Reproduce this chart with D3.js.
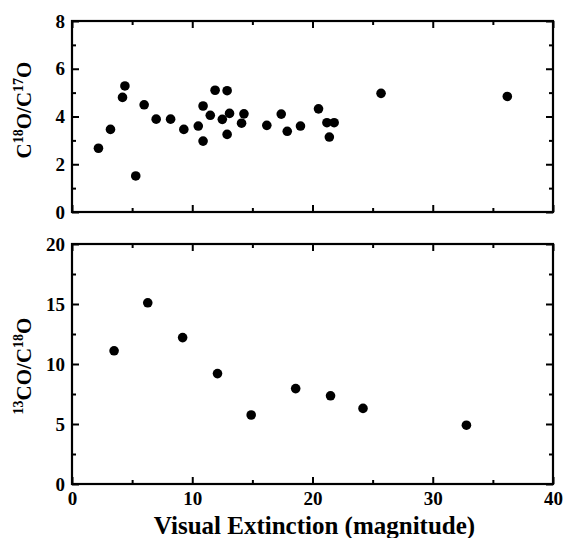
<!DOCTYPE html>
<html>
<head>
<meta charset="utf-8">
<script src="https://cdn.jsdelivr.net/npm/d3@7"></script>
<style>
  body { margin: 0; background: #fff; }
</style>
</head>
<body>
<div id="output"></div>
<script>
var w = 566;
var h = 538;
var serif = '"Liberation Serif", "Times New Roman", serif';

// top panel: C18O/C17O vs visual extinction
var avTop = [2.2, 3.2, 4.2, 4.4, 5.3, 6.0, 7.0, 8.2, 9.3, 10.5, 10.9, 10.9, 11.5, 11.9, 12.5, 12.9, 13.1, 12.9, 14.1, 14.3, 16.2, 17.4, 17.9, 19.0, 20.5, 21.2, 21.8, 21.4, 25.7, 36.2];
var ratioTop = [2.67, 3.46, 4.80, 5.28, 1.51, 4.49, 3.89, 3.89, 3.46, 3.60, 4.44, 2.97, 4.05, 5.10, 3.88, 5.08, 4.13, 3.25, 3.72, 4.11, 3.63, 4.10, 3.38, 3.60, 4.32, 3.74, 3.74, 3.14, 4.97, 4.84];

// bottom panel: 13CO/C18O vs visual extinction
var avBot = [3.5, 6.3, 9.2, 12.1, 14.9, 18.6, 21.5, 24.2, 32.8];
var ratioBot = [11.1, 15.1, 12.2, 9.2, 5.75, 7.95, 7.35, 6.3, 4.9];

var xTicks = [0, 10, 20, 30, 40];
var yTicksTop = [0, 2, 4, 6, 8];
var yTicksBot = [0, 5, 10, 15, 20];

var svg = d3.select('#output').append('svg')
  .attr('width', w)
  .attr('height', h);

var left = 72, right = 553;
var x = d3.scaleLinear().domain([0, 40]).range([left, right]);

var panels = [
  { top: 21, bottom: 212, max: 8, ticks: yTicksTop, minor: 1, xs: avTop, ys: ratioTop, showX: false,
    label: ['C', '18', 'O/C', '17', 'O'], labelY: 110 },
  { top: 244, bottom: 484, max: 20, ticks: yTicksBot, minor: 2.5, xs: avBot, ys: ratioBot, showX: true,
    label: ['', '13', 'CO/C', '18', 'O'], labelY: 366 }
];

function styleAxis(sel) {
  sel.attr('font-family', serif)
    .attr('font-weight', 'bold')
    .attr('font-size', 19);
  sel.select('.domain').remove();
  sel.selectAll('line').attr('stroke', '#000').attr('stroke-width', 2);
  sel.selectAll('text').attr('fill', '#000');
}

panels.forEach(function (p) {
  var y = d3.scaleLinear().domain([0, p.max]).range([p.bottom, p.top]);
  var g = svg.append('g');

  var minorY = d3.range(0, p.max + 0.01, p.minor).filter(function (v) { return p.ticks.indexOf(v) < 0; });
  var minorX = [5, 15, 25, 35];

  // inward ticks on all four sides
  g.append('g').attr('transform', 'translate(0,' + p.bottom + ')')
    .call(d3.axisBottom(x).tickValues(xTicks).tickSize(-7).tickPadding(8).tickFormat(p.showX ? d3.format('d') : ''))
    .call(styleAxis);
  g.append('g').attr('transform', 'translate(0,' + p.bottom + ')')
    .call(d3.axisBottom(x).tickValues(minorX).tickSize(-4).tickFormat(''))
    .call(styleAxis);
  g.append('g').attr('transform', 'translate(0,' + p.top + ')')
    .call(d3.axisTop(x).tickValues(xTicks).tickSize(-7).tickFormat(''))
    .call(styleAxis);
  g.append('g').attr('transform', 'translate(0,' + p.top + ')')
    .call(d3.axisTop(x).tickValues(minorX).tickSize(-4).tickFormat(''))
    .call(styleAxis);
  g.append('g').attr('transform', 'translate(' + left + ',0)')
    .call(d3.axisLeft(y).tickValues(p.ticks).tickSize(-7).tickPadding(7).tickFormat(d3.format('d')))
    .call(styleAxis);
  g.append('g').attr('transform', 'translate(' + left + ',0)')
    .call(d3.axisLeft(y).tickValues(minorY).tickSize(-4).tickFormat(''))
    .call(styleAxis);
  g.append('g').attr('transform', 'translate(' + right + ',0)')
    .call(d3.axisRight(y).tickValues(p.ticks).tickSize(-7).tickFormat(''))
    .call(styleAxis);
  g.append('g').attr('transform', 'translate(' + right + ',0)')
    .call(d3.axisRight(y).tickValues(minorY).tickSize(-4).tickFormat(''))
    .call(styleAxis);

  // frame
  g.append('rect')
    .attr('x', left).attr('y', p.top)
    .attr('width', right - left).attr('height', p.bottom - p.top)
    .attr('fill', 'none').attr('stroke', '#000').attr('stroke-width', 2.2);

  g.selectAll('circle')
    .data(p.xs)
    .enter()
    .append('circle')
    .attr('cx', function (d) { return x(d); })
    .attr('cy', function (d, i) { return y(p.ys[i]); })
    .attr('r', 4.8)
    .attr('fill', '#000');

  // y label with superscripts, centred by measured length
  var t = svg.append('text')
    .attr('transform', 'translate(31,' + p.labelY + ') rotate(-90)')
    .attr('text-anchor', 'start')
    .attr('font-family', serif)
    .attr('font-weight', 'bold')
    .attr('font-size', 21)
    .attr('fill', '#000');
  p.label.forEach(function (s, i) {
    if (!s) return;
    var sp = t.append('tspan').text(s);
    if (i % 2 === 1) {
      sp.attr('font-size', 14).attr('dy', -8);
    } else if (i > 0) {
      sp.attr('dy', 8);
    }
  });
  var len = t.node().getComputedTextLength();
  t.attr('x', -len / 2);
});

svg.append('text')
  .attr('x', (left + right) / 2 + 2)
  .attr('y', 534)
  .attr('text-anchor', 'middle')
  .attr('font-family', serif)
  .attr('font-weight', 'bold')
  .attr('font-size', 25)
  .attr('fill', '#000')
  .text('Visual Extinction (magnitude)');
</script>
</body>
</html>
